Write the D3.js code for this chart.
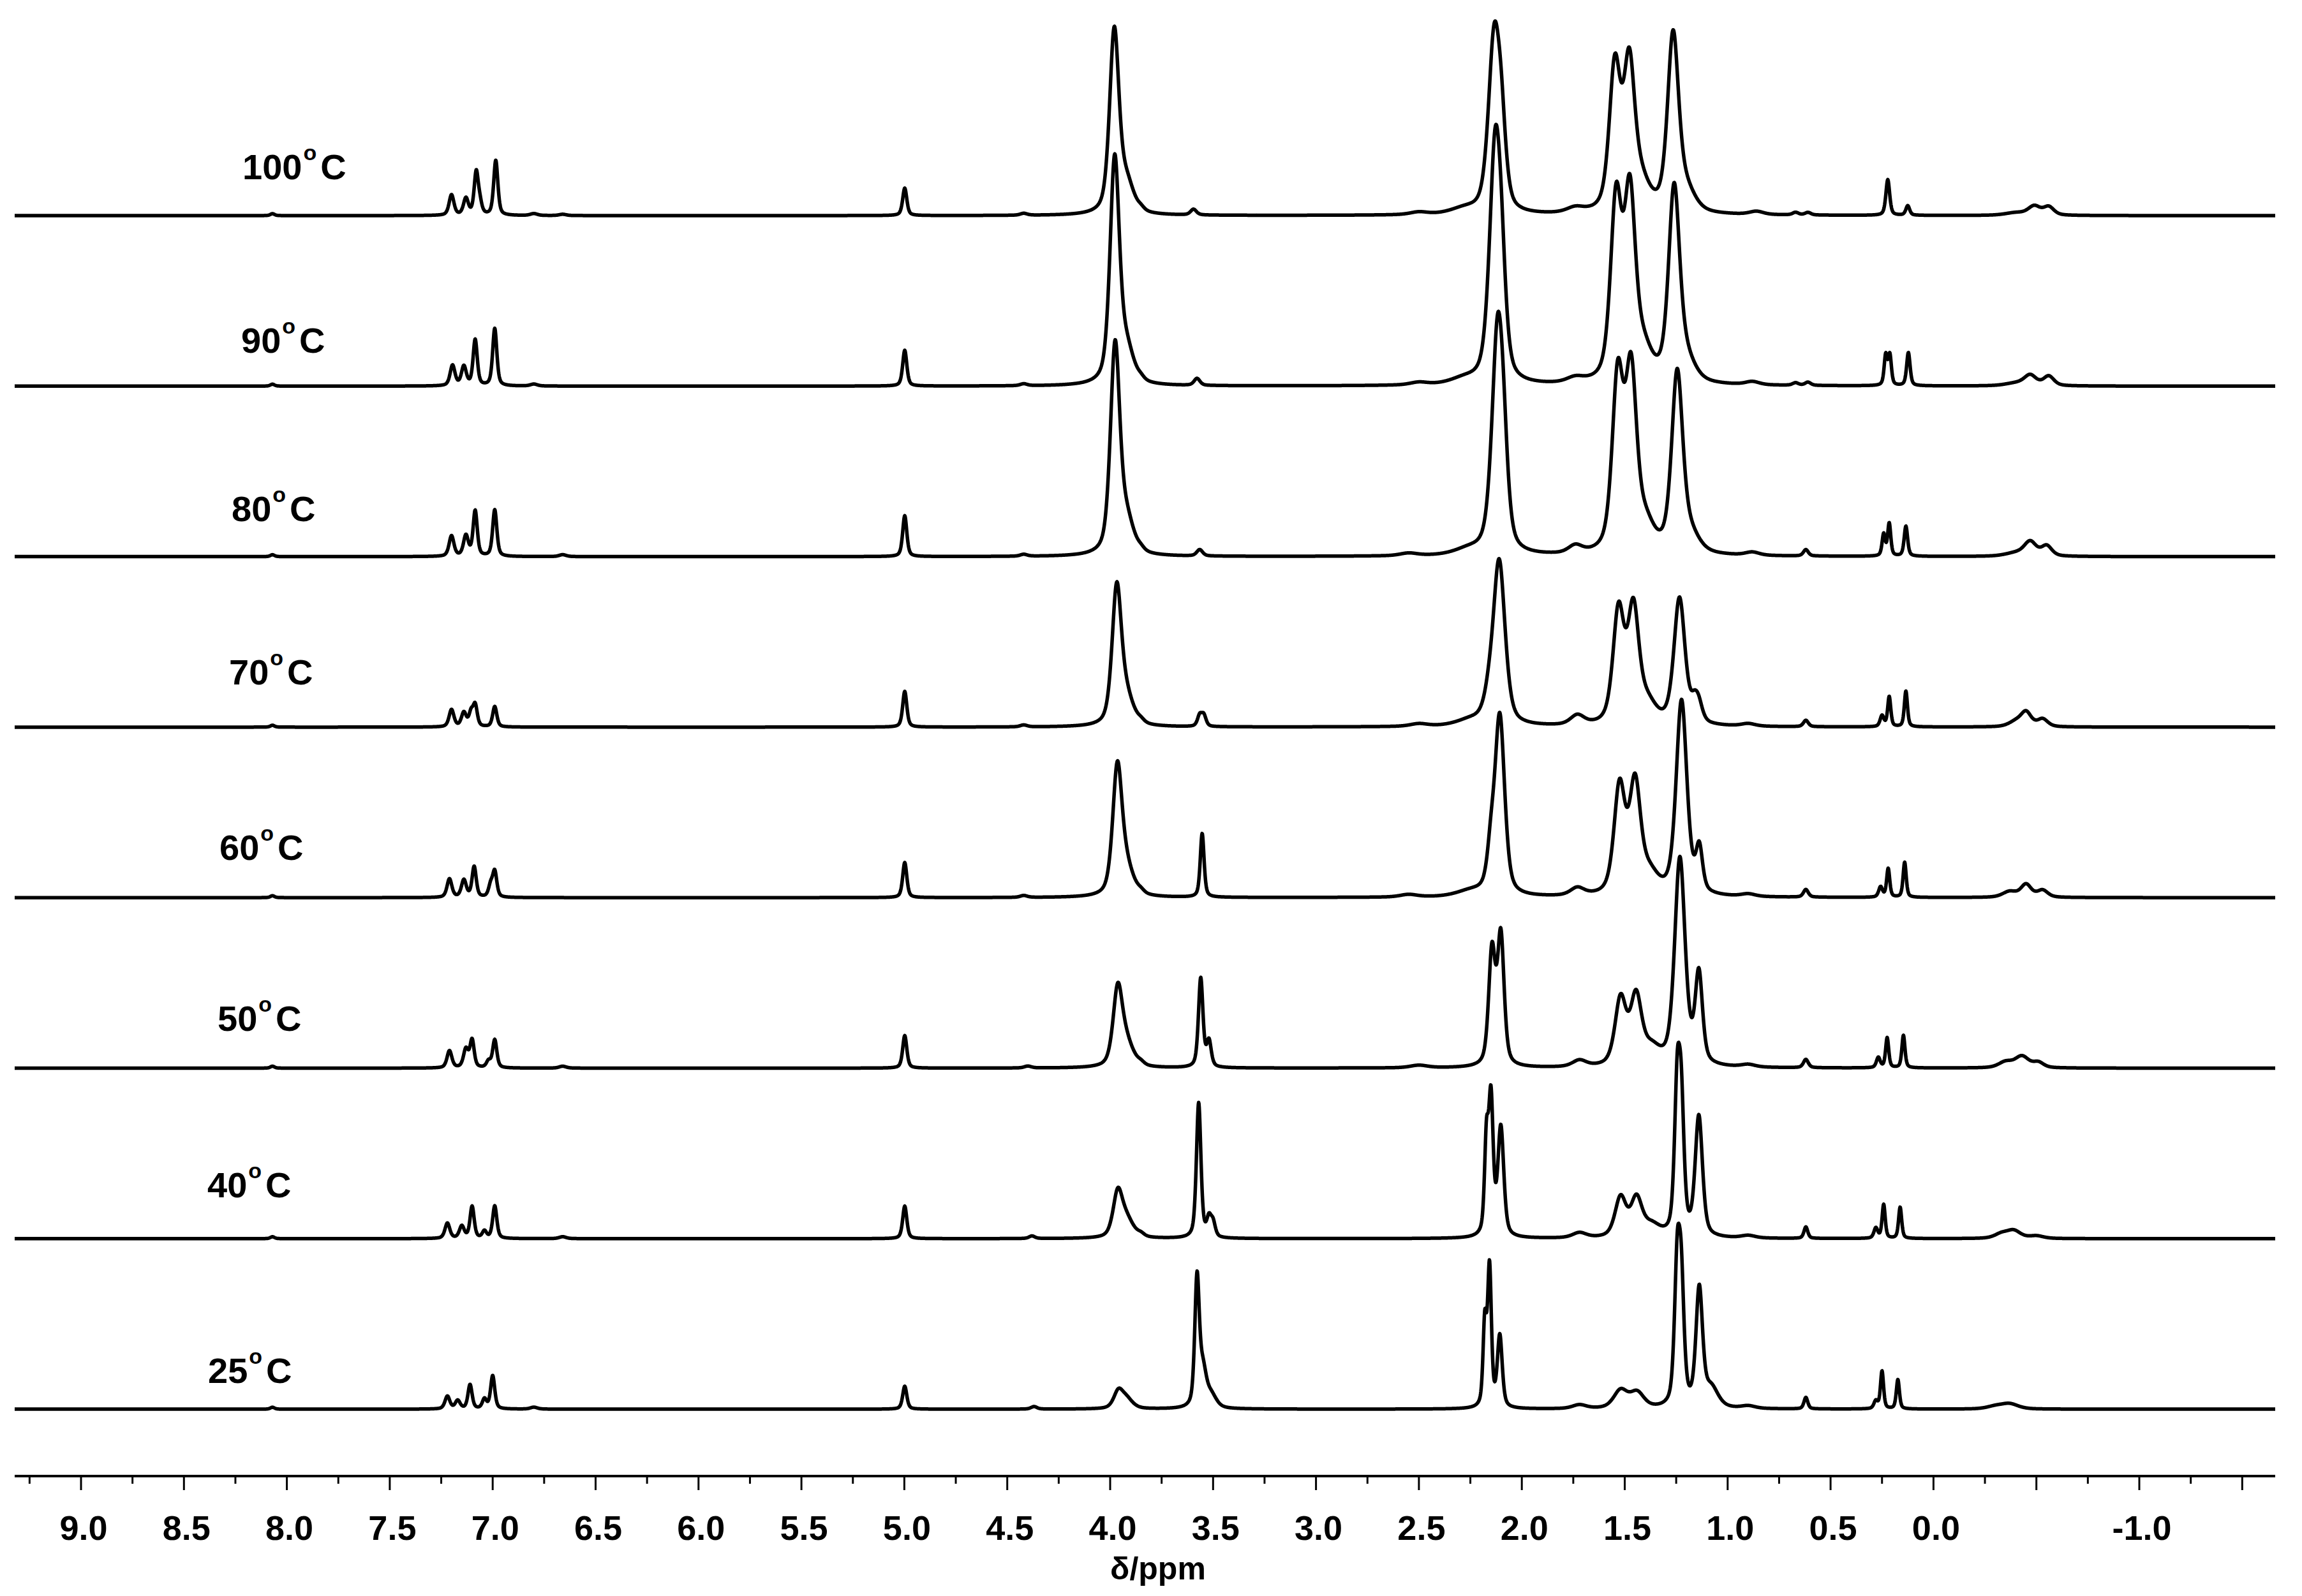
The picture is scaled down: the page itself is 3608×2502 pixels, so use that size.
<!DOCTYPE html>
<html>
<head>
<meta charset="utf-8">
<script src="https://cdn.jsdelivr.net/npm/d3@7"></script>
<style>
html,body{margin:0;padding:0;background:#fff;}
svg{display:block;font-family:"Liberation Sans",Arial,Helvetica,sans-serif;}
</style>
</head>
<body>
<svg id="chart" width="3608" height="2502"></svg>
<script>
// ---------------- DATA ----------------
// Temperatures of the stacked spectra, top to bottom
const temperatures = ["100", "90", "80", "70", "60", "50", "40", "25"];

// Peak lists: [chemical shift (ppm), height (intensity units), half width (ppm)]
const peaks100 = [
  [8.07, 3, 0.012], [7.20, 32, 0.014], [7.13, 26, 0.014], [7.08, 66, 0.012], [7.062, 16, 0.012], [6.985, 86, 0.012],
  [6.80, 3, 0.02], [6.66, 2, 0.02], [4.998, 43, 0.012], [4.42, 3, 0.02],
  [3.98, 285, 0.027], [3.92, 45, 0.04], [3.85, 4, 0.02], [3.595, 9, 0.017],
  [2.50, 4, 0.05], [2.28, 8, 0.08], [2.135, 262, 0.033], [2.10, 105, 0.027],
  [1.74, 8, 0.05], [1.548, 225, 0.032], [1.478, 220, 0.032], [1.42, 40, 0.05], [1.265, 275, 0.032], [1.20, 30, 0.05],
  [0.86, 5, 0.04], [0.67, 4, 0.017], [0.61, 4, 0.017],
  [0.222, 56, 0.011], [0.125, 15, 0.011],
  [-0.40, 4, 0.06], [-0.49, 14, 0.035], [-0.56, 13, 0.03]
];
const peaks90 = [
  [8.07, 3, 0.012], [7.195, 32, 0.014], [7.14, 30, 0.014], [7.085, 72, 0.012], [6.99, 90, 0.012],
  [6.80, 3, 0.02], [4.998, 56, 0.012], [4.42, 3, 0.02],
  [3.978, 350, 0.027], [3.92, 50, 0.04], [3.85, 4, 0.02], [3.578, 11, 0.017],
  [2.50, 4, 0.05], [2.28, 8, 0.08], [2.13, 352, 0.033], [2.10, 115, 0.027],
  [1.74, 8, 0.05], [1.542, 280, 0.032], [1.475, 280, 0.032], [1.41, 45, 0.05], [1.26, 300, 0.032], [1.20, 30, 0.05],
  [0.88, 5, 0.04], [0.67, 4, 0.017], [0.61, 5, 0.017],
  [0.232, 47, 0.009], [0.212, 47, 0.009], [0.122, 52, 0.010],
  [-0.40, 4, 0.06], [-0.47, 16, 0.035], [-0.56, 15, 0.03]
];
const peaks80 = [
  [8.07, 3, 0.012], [7.20, 32, 0.014], [7.13, 32, 0.014], [7.085, 71, 0.012], [6.99, 73, 0.012],
  [6.66, 3, 0.02], [4.998, 64, 0.012], [4.42, 3, 0.02],
  [3.976, 325, 0.027], [3.92, 50, 0.04], [3.85, 4, 0.02], [3.565, 10, 0.017],
  [2.55, 4, 0.05], [2.26, 8, 0.08], [2.118, 332, 0.033], [2.09, 95, 0.027],
  [1.74, 12, 0.04], [1.534, 270, 0.032], [1.469, 270, 0.032], [1.40, 40, 0.05], [1.245, 280, 0.032], [1.18, 25, 0.05],
  [0.88, 5, 0.04], [0.62, 10, 0.014],
  [0.242, 34, 0.009], [0.215, 51, 0.009], [0.134, 47, 0.010],
  [-0.40, 5, 0.06], [-0.47, 22, 0.035], [-0.55, 16, 0.03]
];
const peaks70 = [
  [8.07, 3, 0.012], [7.20, 27, 0.014], [7.14, 22, 0.014], [7.105, 21, 0.012], [7.085, 33, 0.012], [6.99, 32, 0.012],
  [4.998, 56, 0.012], [4.42, 3, 0.02],
  [3.968, 212, 0.027], [3.92, 40, 0.04], [3.85, 4, 0.02], [3.565, 17, 0.013], [3.545, 17, 0.013],
  [2.50, 4, 0.05], [2.25, 8, 0.08], [2.11, 256, 0.034], [2.16, 28, 0.03],
  [1.73, 15, 0.04], [1.53, 176, 0.032], [1.458, 174, 0.032], [1.39, 30, 0.05], [1.234, 198, 0.032], [1.16, 25, 0.022], [1.14, 23, 0.022],
  [0.90, 4, 0.04], [0.62, 10, 0.014],
  [0.25, 17, 0.011], [0.215, 47, 0.009], [0.134, 56, 0.009],
  [-0.40, 8, 0.04], [-0.45, 22, 0.03], [-0.53, 12, 0.03]
];
const peaks60 = [
  [8.07, 3, 0.012], [7.21, 29, 0.014], [7.14, 27, 0.014], [7.09, 48, 0.012], [7.01, 18, 0.012], [6.99, 40, 0.012],
  [4.998, 55, 0.012], [4.42, 3, 0.02],
  [3.965, 197, 0.027], [3.92, 40, 0.04], [3.85, 4, 0.02], [3.553, 100, 0.011],
  [2.55, 4, 0.05], [2.25, 8, 0.08], [2.107, 280, 0.028], [2.15, 58, 0.022],
  [1.73, 12, 0.04], [1.525, 168, 0.032], [1.45, 168, 0.032], [1.38, 30, 0.05], [1.224, 305, 0.031], [1.138, 68, 0.019],
  [0.90, 4, 0.04], [0.62, 12, 0.014],
  [0.257, 16, 0.011], [0.22, 45, 0.009], [0.14, 55, 0.009],
  [-0.37, 9, 0.04], [-0.45, 20, 0.03], [-0.53, 11, 0.03]
];
const peaks50 = [
  [8.07, 3, 0.012], [7.21, 27, 0.014], [7.13, 29, 0.014], [7.10, 43, 0.012], [7.02, 10, 0.012], [6.99, 44, 0.012],
  [6.66, 3, 0.02], [4.998, 51, 0.012], [4.40, 3, 0.02],
  [3.963, 118, 0.027], [3.92, 35, 0.04], [3.85, 4, 0.02], [3.56, 140, 0.013], [3.52, 40, 0.013],
  [2.50, 4, 0.05], [2.145, 178, 0.019], [2.102, 202, 0.019],
  [1.72, 10, 0.04], [1.52, 104, 0.032], [1.445, 104, 0.032], [1.37, 25, 0.05], [1.232, 325, 0.03], [1.14, 140, 0.021],
  [0.90, 4, 0.04], [0.62, 13, 0.014],
  [0.268, 16, 0.011], [0.225, 47, 0.009], [0.146, 51, 0.009],
  [-0.35, 9, 0.04], [-0.43, 18, 0.04], [-0.51, 8, 0.03]
];
const peaks40 = [
  [8.07, 3, 0.012], [7.22, 24, 0.014], [7.15, 19, 0.014], [7.10, 50, 0.012], [7.04, 11, 0.012], [6.99, 51, 0.012],
  [6.66, 3, 0.02], [4.998, 51, 0.012], [4.38, 4, 0.017],
  [3.963, 67, 0.027], [3.92, 28, 0.04], [3.85, 4, 0.02], [3.57, 212, 0.013], [3.52, 28, 0.013], [3.50, 22, 0.013],
  [2.172, 140, 0.011], [2.15, 212, 0.013], [2.102, 170, 0.017],
  [1.72, 8, 0.04], [1.52, 62, 0.032], [1.443, 58, 0.032], [1.37, 18, 0.05], [1.245, 218, 0.016], [1.225, 185, 0.016], [1.14, 188, 0.021],
  [0.90, 4, 0.04], [0.62, 18, 0.011],
  [0.28, 16, 0.011], [0.242, 53, 0.009], [0.162, 49, 0.009],
  [-0.33, 7, 0.04], [-0.39, 12, 0.04], [-0.50, 4, 0.04]
];
const peaks25 = [
  [8.07, 3, 0.012], [7.22, 20, 0.014], [7.17, 13, 0.014], [7.11, 38, 0.012], [7.04, 15, 0.012], [7.00, 52, 0.012],
  [6.80, 3, 0.02], [4.998, 36, 0.012], [4.37, 4, 0.017],
  [3.96, 26, 0.027], [3.92, 15, 0.035], [3.578, 198, 0.013], [3.55, 55, 0.02], [3.51, 20, 0.03],
  [2.18, 128, 0.010], [2.157, 218, 0.011], [2.107, 112, 0.014],
  [1.72, 6, 0.04], [1.52, 28, 0.04], [1.44, 24, 0.04], [1.245, 208, 0.016], [1.225, 175, 0.016], [1.138, 182, 0.019], [1.08, 30, 0.04],
  [0.90, 4, 0.04], [0.62, 18, 0.011],
  [0.28, 12, 0.011], [0.25, 59, 0.009], [0.173, 46, 0.009],
  [-0.30, 4, 0.05], [-0.37, 8, 0.05]
];
const spectra = [peaks100, peaks90, peaks80, peaks70, peaks60, peaks50, peaks40, peaks25];

// Axis ticks
const majorTicks = [9.0, 8.5, 8.0, 7.5, 7.0, 6.5, 6.0, 5.5, 5.0, 4.5, 4.0, 3.5, 3.0, 2.5, 2.0, 1.5, 1.0, 0.5, 0.0, -0.5, -1.0, -1.5];
const tickLabels = ["9.0", "8.5", "8.0", "7.5", "7.0", "6.5", "6.0", "5.5", "5.0", "4.5", "4.0", "3.5", "3.0", "2.5", "2.0", "1.5", "1.0", "0.5", "0.0", "", "-1.0", ""];
const minorTicks = [9.25, 8.75, 8.25, 7.75, 7.25, 6.75, 6.25, 5.75, 5.25, 4.75, 4.25, 3.75, 3.25, 2.75, 2.25, 1.75, 1.25, 0.75, 0.25, -0.25, -0.75, -1.25];
const axisTitle = "δ/ppm";

// ---------------- DRAWING ----------------
const svg = d3.select("#chart");
const x = d3.scaleLinear().domain([9.0, -1.0]).range([127, 3353]);
const ppmStart = x.invert(23), ppmEnd = x.invert(3566);
const base0 = 338, step = 267.3;
const eta = 0.5;

function intensity(peaks, p) {
  let s = 0;
  for (const [c, h, w] of peaks) {
    const t = (p - c) / w;
    const t2 = t * t;
    if (t2 > 4000) continue;
    s += h * (eta / (1 + t2) + (1 - eta) * Math.exp(-Math.LN2 * t2));
  }
  return s;
}

const nSamples = 7200;
const grid = d3.range(nSamples + 1).map(i => ppmStart + (ppmEnd - ppmStart) * i / nSamples);

spectra.forEach((peaks, i) => {
  const base = base0 + i * step;
  const y = d3.scaleLinear().domain([0, 100]).range([base, base - 100]);
  const line = d3.line().x(d => x(d[0])).y(d => y(d[1]));
  const pts = grid.map(p => [p, intensity(peaks, p)]);
  svg.append("path")
    .attr("d", line(pts))
    .attr("fill", "none")
    .attr("stroke", "#000")
    .attr("stroke-width", 5.5)
    .attr("stroke-linejoin", "round");
});

// temperature labels
const labelX = [380, 378, 363, 359, 344, 341, 325, 326];
const labelY = [281, 553, 817, 1073, 1348, 1616, 1877, 2168];
temperatures.forEach((t, i) => {
  const tx = svg.append("text")
    .attr("x", labelX[i]).attr("y", labelY[i])
    .attr("font-size", 56).attr("font-weight", "bold").attr("fill", "#000");
  tx.append("tspan").text(t);
  tx.append("tspan").attr("font-size", 34).attr("dy", -30).attr("dx", 2).text("o");
  tx.append("tspan").attr("dy", 30).attr("dx", 6).text("C");
});

// axis
const axisY = 2314;
svg.append("line").attr("x1", 23).attr("x2", 3566).attr("y1", axisY).attr("y2", axisY)
  .attr("stroke", "#000").attr("stroke-width", 4);
svg.selectAll(".maj").data(majorTicks).enter().append("line")
  .attr("x1", d => x(d)).attr("x2", d => x(d))
  .attr("y1", axisY).attr("y2", axisY + 22)
  .attr("stroke", "#000").attr("stroke-width", 3);
svg.selectAll(".min").data(minorTicks).enter().append("line")
  .attr("x1", d => x(d)).attr("x2", d => x(d))
  .attr("y1", axisY).attr("y2", axisY + 12)
  .attr("stroke", "#000").attr("stroke-width", 3);
svg.selectAll(".tl").data(majorTicks).enter().append("text")
  .attr("x", d => x(d) + 4).attr("y", 2414)
  .attr("text-anchor", "middle").attr("font-size", 54).attr("font-weight", "bold")
  .text((d, i) => tickLabels[i]);
svg.append("text").attr("x", 1815).attr("y", 2476)
  .attr("text-anchor", "middle").attr("font-size", 50).attr("font-weight", "bold")
  .text(axisTitle);
</script>
</body>
</html>
